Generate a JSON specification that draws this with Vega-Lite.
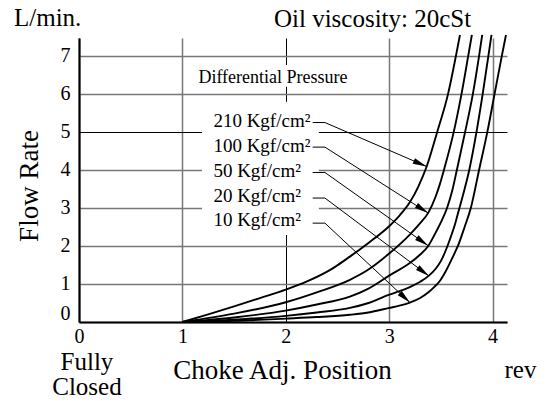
{
  "$schema": "https://vega.github.io/schema/vega-lite/v6.json",
  "width": 428,
  "height": 284,
  "autosize": "none",
  "padding": {"left": 79, "top": 38, "right": 40, "bottom": 79},
  "background": "white",
  "config": {
    "view": {"stroke": null},
    "font": "Liberation Serif",
    "text": {"font": "Liberation Serif", "color": "#000"}
  },
  "datasets": {
    "curves": [
      {"p": "210", "x": 1, "y": 0}, {"p": "210", "x": 1.25, "y": 0.2}, {"p": "210", "x": 1.5, "y": 0.41}, {"p": "210", "x": 1.75, "y": 0.63}, {"p": "210", "x": 2, "y": 0.85}, {"p": "210", "x": 2.2, "y": 1.06}, {"p": "210", "x": 2.43, "y": 1.37}, {"p": "210", "x": 2.62, "y": 1.72}, {"p": "210", "x": 2.8, "y": 2.08}, {"p": "210", "x": 3, "y": 2.52}, {"p": "210", "x": 3.1, "y": 2.8}, {"p": "210", "x": 3.2, "y": 3.15}, {"p": "210", "x": 3.28, "y": 3.55}, {"p": "210", "x": 3.363, "y": 4.09}, {"p": "210", "x": 3.465, "y": 5}, {"p": "210", "x": 3.57, "y": 6}, {"p": "210", "x": 3.646, "y": 7}, {"p": "210", "x": 3.685, "y": 7.55},
      {"p": "100", "x": 1, "y": 0}, {"p": "100", "x": 1.5, "y": 0.22}, {"p": "100", "x": 2, "y": 0.52}, {"p": "100", "x": 2.3, "y": 0.78}, {"p": "100", "x": 2.62, "y": 1.11}, {"p": "100", "x": 2.8, "y": 1.38}, {"p": "100", "x": 3, "y": 1.8}, {"p": "100", "x": 3.2, "y": 2.3}, {"p": "100", "x": 3.3, "y": 2.6}, {"p": "100", "x": 3.378, "y": 2.87}, {"p": "100", "x": 3.45, "y": 3.3}, {"p": "100", "x": 3.49, "y": 3.62}, {"p": "100", "x": 3.53, "y": 4.0}, {"p": "100", "x": 3.625, "y": 5}, {"p": "100", "x": 3.7, "y": 6}, {"p": "100", "x": 3.765, "y": 7}, {"p": "100", "x": 3.8, "y": 7.55},
      {"p": "50", "x": 1, "y": 0}, {"p": "50", "x": 1.5, "y": 0.12}, {"p": "50", "x": 2, "y": 0.3}, {"p": "50", "x": 2.3, "y": 0.46}, {"p": "50", "x": 2.62, "y": 0.67}, {"p": "50", "x": 2.8, "y": 0.88}, {"p": "50", "x": 3, "y": 1.22}, {"p": "50", "x": 3.2, "y": 1.55}, {"p": "50", "x": 3.29, "y": 1.75}, {"p": "50", "x": 3.378, "y": 2.0}, {"p": "50", "x": 3.44, "y": 2.3}, {"p": "50", "x": 3.5, "y": 2.62}, {"p": "50", "x": 3.56, "y": 3.0}, {"p": "50", "x": 3.61, "y": 3.45}, {"p": "50", "x": 3.655, "y": 4.0}, {"p": "50", "x": 3.735, "y": 5}, {"p": "50", "x": 3.81, "y": 6}, {"p": "50", "x": 3.87, "y": 7}, {"p": "50", "x": 3.9, "y": 7.55},
      {"p": "20", "x": 1, "y": 0}, {"p": "20", "x": 1.5, "y": 0.06}, {"p": "20", "x": 2, "y": 0.16}, {"p": "20", "x": 2.3, "y": 0.25}, {"p": "20", "x": 2.62, "y": 0.37}, {"p": "20", "x": 2.8, "y": 0.5}, {"p": "20", "x": 3, "y": 0.72}, {"p": "20", "x": 3.1, "y": 0.81}, {"p": "20", "x": 3.2, "y": 0.92}, {"p": "20", "x": 3.3, "y": 1.06}, {"p": "20", "x": 3.385, "y": 1.22}, {"p": "20", "x": 3.45, "y": 1.4}, {"p": "20", "x": 3.5, "y": 1.6}, {"p": "20", "x": 3.55, "y": 1.9}, {"p": "20", "x": 3.6, "y": 2.27}, {"p": "20", "x": 3.64, "y": 2.6}, {"p": "20", "x": 3.68, "y": 3.0}, {"p": "20", "x": 3.73, "y": 3.5}, {"p": "20", "x": 3.775, "y": 4.0}, {"p": "20", "x": 3.845, "y": 5}, {"p": "20", "x": 3.905, "y": 6}, {"p": "20", "x": 3.96, "y": 7}, {"p": "20", "x": 3.99, "y": 7.55},
      {"p": "10", "x": 1, "y": 0}, {"p": "10", "x": 1.5, "y": 0.03}, {"p": "10", "x": 2, "y": 0.09}, {"p": "10", "x": 2.3, "y": 0.13}, {"p": "10", "x": 2.62, "y": 0.19}, {"p": "10", "x": 2.8, "y": 0.25}, {"p": "10", "x": 3, "y": 0.37}, {"p": "10", "x": 3.1, "y": 0.43}, {"p": "10", "x": 3.2, "y": 0.51}, {"p": "10", "x": 3.3, "y": 0.63}, {"p": "10", "x": 3.38, "y": 0.78}, {"p": "10", "x": 3.44, "y": 0.93}, {"p": "10", "x": 3.49, "y": 1.08}, {"p": "10", "x": 3.55, "y": 1.35}, {"p": "10", "x": 3.61, "y": 1.68}, {"p": "10", "x": 3.665, "y": 2.0}, {"p": "10", "x": 3.73, "y": 2.5}, {"p": "10", "x": 3.79, "y": 3.0}, {"p": "10", "x": 3.87, "y": 4.0}, {"p": "10", "x": 3.95, "y": 5}, {"p": "10", "x": 4.02, "y": 6}, {"p": "10", "x": 4.09, "y": 7}, {"p": "10", "x": 4.13, "y": 7.55}
    ],
    "boxes": [
      {"x": 1.19, "x2": 2.32, "y": 2.29, "y2": 5.79},
      {"x": 1.2, "x2": 2.6, "y": 6.19, "y2": 6.76}
    ],
    "leaders": [
      {"p": "210", "seq": 1, "x": 2.26, "y": 5.247}, {"p": "210", "seq": 2, "x": 2.379, "y": 5.247}, {"p": "210", "seq": 3, "x": 3.363, "y": 4.09},
      {"p": "100", "seq": 1, "x": 2.26, "y": 4.6}, {"p": "100", "seq": 2, "x": 2.379, "y": 4.6}, {"p": "100", "seq": 3, "x": 3.378, "y": 2.865},
      {"p": "50", "seq": 1, "x": 2.26, "y": 3.933}, {"p": "50", "seq": 2, "x": 2.379, "y": 3.933}, {"p": "50", "seq": 3, "x": 3.378, "y": 2.006},
      {"p": "20", "seq": 1, "x": 2.26, "y": 3.26}, {"p": "20", "seq": 2, "x": 2.379, "y": 3.26}, {"p": "20", "seq": 3, "x": 3.385, "y": 1.21},
      {"p": "10", "seq": 1, "x": 2.26, "y": 2.6}, {"p": "10", "seq": 2, "x": 2.379, "y": 2.6}, {"p": "10", "seq": 3, "x": 3.201, "y": 0.51}
    ],
    "tips": [
      {"p": "210", "x": 3.363, "y": 4.09, "heading": 23.4},
      {"p": "100", "x": 3.378, "y": 2.865, "heading": 32.6},
      {"p": "50", "x": 3.378, "y": 2.006, "heading": 35.4},
      {"p": "20", "x": 3.385, "y": 1.21, "heading": 37.0},
      {"p": "10", "x": 3.201, "y": 0.51, "heading": 43.3}
    ],
    "plabels": [
      {"t": "210 Kgf/cm²", "x": 1.3, "y": 5.126},
      {"t": "100 Kgf/cm²", "x": 1.3, "y": 4.477},
      {"t": "50 Kgf/cm²", "x": 1.3, "y": 3.812},
      {"t": "20 Kgf/cm²", "x": 1.3, "y": 3.162},
      {"t": "10 Kgf/cm²", "x": 1.3, "y": 2.513}
    ],
    "heading": [{"t": "Differential Pressure", "x": 1.876, "y": 6.29}],
    "toptexts": [
      {"t": "L/min.", "x": -0.629, "y": 7.79},
      {"t": "Oil viscosity: 20cSt", "x": 1.886, "y": 7.77}
    ],
    "bottomtexts": [
      {"t": "Fully\nClosed", "x": 0.077, "y": -1.26},
      {"t": "rev", "x": 4.27, "y": -1.472}
    ]
  },
  "layer": [
    {
      "data": {"name": "boxes"},
      "mark": {"type": "rect", "fill": "white", "stroke": null},
      "encoding": {
        "x": {
          "field": "x", "type": "quantitative",
          "scale": {"domain": [0, 4.14], "nice": false, "zero": false},
          "axis": {
            "title": "Choke Adj. Position",
            "values": [0, 1, 2, 3, 4],
            "format": "d",
            "grid": true,
            "gridColor": {"condition": {"test": "datum.value === 2 || datum.value === 0", "value": "#000"}, "value": "#777"},
            "gridWidth": {"condition": {"test": "datum.value === 2", "value": 1}, "value": 1.5},
            "ticks": false,
            "tickSize": 0,
            "domainColor": "#000",
            "domainWidth": 2,
            "labelFont": "Liberation Serif",
            "labelFontSize": 20,
            "labelColor": "#000",
            "labelPadding": 4,
            "labelFlush": false,
            "labelOverlap": false,
            "titleFont": "Liberation Serif",
            "titleFontSize": 27,
            "titleFontWeight": "normal",
            "titleColor": "#000",
            "titleX": 203,
            "titleY": 56,
            "titleAlign": "center",
            "titleBaseline": "alphabetic"
          }
        },
        "x2": {"field": "x2"},
        "y": {
          "field": "y", "type": "quantitative",
          "scale": {"domain": [0, 7.47], "nice": false, "zero": false},
          "axis": {
            "title": "Flow Rate",
            "values": [0, 1, 2, 3, 4, 5, 6, 7],
            "format": "d",
            "grid": true,
            "gridColor": {"condition": {"test": "datum.value === 5", "value": "#000"}, "value": "#777"},
            "gridWidth": {"condition": {"test": "datum.value === 5", "value": 1}, "value": 1.5},
            "ticks": false,
            "tickSize": 0,
            "domainColor": "#000",
            "domainWidth": 2,
            "labelFont": "Liberation Serif",
            "labelFontSize": 20,
            "labelColor": "#000",
            "labelPadding": 9,
            "labelOffset": {"condition": {"test": "datum.value === 0", "value": -9}, "value": 0},
            "labelFlush": false,
            "labelOverlap": false,
            "titleFont": "Liberation Serif",
            "titleFontSize": 27,
            "titleFontWeight": "normal",
            "titleColor": "#000",
            "titleAngle": -90,
            "titleX": -42,
            "titleY": 147.5,
            "titleAlign": "center",
            "titleBaseline": "alphabetic"
          }
        },
        "y2": {"field": "y2"}
      }
    },
    {
      "data": {"name": "curves"},
      "mark": {"type": "line", "color": "#000", "strokeWidth": 1.9, "interpolate": "monotone", "clip": false},
      "encoding": {
        "x": {"field": "x", "type": "quantitative"},
        "y": {"field": "y", "type": "quantitative"},
        "detail": {"field": "p"}
      }
    },
    {
      "data": {"name": "leaders"},
      "mark": {"type": "line", "color": "#000", "strokeWidth": 1},
      "encoding": {
        "x": {"field": "x", "type": "quantitative"},
        "y": {"field": "y", "type": "quantitative"},
        "detail": {"field": "p"},
        "order": {"field": "seq", "type": "quantitative"}
      }
    },
    {
      "data": {"name": "tips"},
      "mark": {"type": "point", "shape": "M0,0L-2,-0.42L-2,0.42Z", "filled": true, "color": "#000", "opacity": 1, "size": 196, "strokeWidth": 0},
      "encoding": {
        "x": {"field": "x", "type": "quantitative"},
        "y": {"field": "y", "type": "quantitative"},
        "angle": {"field": "heading", "type": "quantitative", "scale": null}
      }
    },
    {
      "data": {"name": "plabels"},
      "mark": {"type": "text", "align": "left", "baseline": "alphabetic", "fontSize": 19, "font": "Liberation Serif", "color": "#000"},
      "encoding": {
        "x": {"field": "x", "type": "quantitative"},
        "y": {"field": "y", "type": "quantitative"},
        "text": {"field": "t"}
      }
    },
    {
      "data": {"name": "heading"},
      "mark": {"type": "text", "align": "center", "baseline": "alphabetic", "fontSize": 18, "font": "Liberation Serif", "color": "#000"},
      "encoding": {
        "x": {"field": "x", "type": "quantitative"},
        "y": {"field": "y", "type": "quantitative"},
        "text": {"field": "t"}
      }
    },
    {
      "data": {"name": "toptexts"},
      "mark": {"type": "text", "align": "left", "baseline": "alphabetic", "fontSize": 25, "font": "Liberation Serif", "color": "#000", "clip": false},
      "encoding": {
        "x": {"field": "x", "type": "quantitative"},
        "y": {"field": "y", "type": "quantitative"},
        "text": {"field": "t"}
      }
    },
    {
      "data": {"name": "bottomtexts"},
      "mark": {"type": "text", "align": "center", "baseline": "alphabetic", "fontSize": 25, "lineBreak": "\n", "lineHeight": 25, "font": "Liberation Serif", "color": "#000", "clip": false},
      "encoding": {
        "x": {"field": "x", "type": "quantitative"},
        "y": {"field": "y", "type": "quantitative"},
        "text": {"field": "t"}
      }
    }
  ]
}
